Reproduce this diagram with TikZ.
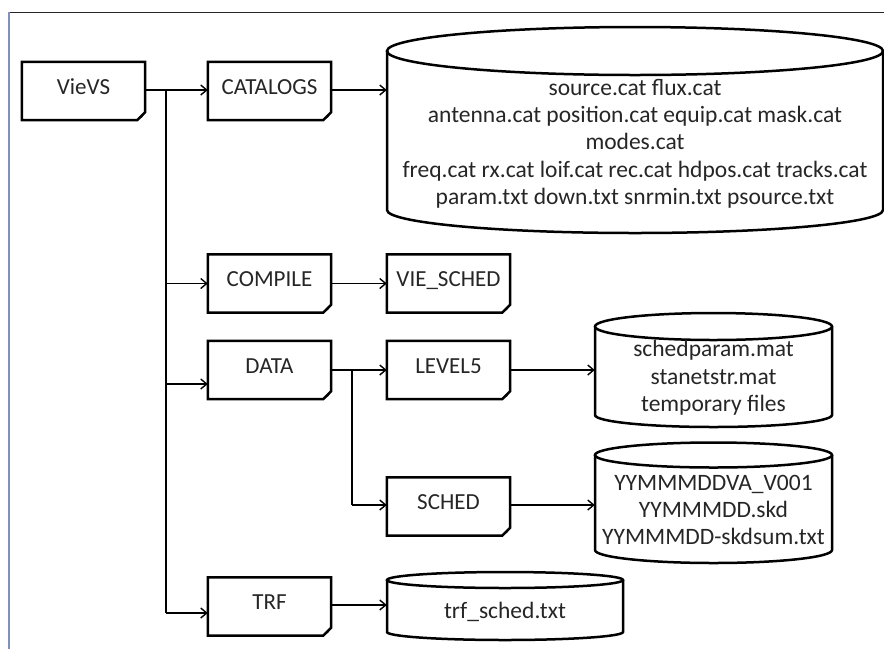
\documentclass[tikz,border=0pt]{standalone}
\usepackage{fontspec}
\setmainfont{Carlito}
\usetikzlibrary{calc,arrows.meta}
\definecolor{txt}{HTML}{262626}
\definecolor{frameblue}{HTML}{7F92BF}
\tikzset{
  boxnode/.style={minimum width=123pt, minimum height=58pt, inner sep=0pt,
    text height=15pt, text depth=8.5pt, font=\fontsize{23}{27}\selectfont, text=txt},
  boxline/.style={line width=2.5pt, line join=miter},
  cyltext/.style={inner sep=0pt, align=center, font=\fontsize{23.5}{27.3}\selectfont, text=txt},
  cylline/.style={line width=2.5pt},
  conn/.style={line width=1.4pt, -{Straight Barb[length=6pt,width=10pt,line width=1.4pt]}},
  plainline/.style={line width=1.4pt},
}
\newcommand\docbox[3]{%
  \node[boxnode] (#1) at (#2) {#3};
  \draw[boxline] (#1.north west) -- (#1.north east) -- ([yshift=8pt]#1.south east)
     -- ([xshift=-8pt]#1.south east) -- (#1.south west) -- cycle;
  \fill ([yshift=8pt]#1.south east) -- ([xshift=-8pt]#1.south east) -- ([xshift=-3pt,yshift=3pt]#1.south east) -- cycle;
}
% name, x0, x1, top-center y, bottom-center y, ry top, ry bottom, text center y, text
\newcommand\cyl[9]{%
  \draw[cylline] (#2,#4) -- (#2,#5) arc[start angle=180,end angle=0,x radius={(#3-#2)/2},y radius=#7] -- (#3,#4);
  \draw[cylline] ({(#2+#3)/2},#4) ellipse[x radius={(#3-#2)/2}, y radius=#6];
  \node[cyltext, minimum width={(#3-#2)*1pt}] (#1) at ({(#2+#3)/2},#8) {#9};
}
\begin{document}
\begin{tikzpicture}[x=1pt,y=-1pt]
\useasboundingbox (0,0) rectangle (884,649);
\fill[white] (0,0) rectangle (884,649);
% frame
\draw[line width=1pt, black!85] (9,12) -- (884,12);
\draw[line width=2pt, frameblue] (9,12) -- (9,649);

% boxes
\docbox{vievs}{83.5,91}{VieVS}
\docbox{catalogs}{269.5,91}{CATALOGS}
\docbox{compile}{269.5,283.5}{COMPILE}
\docbox{viesched}{448.5,283.5}{VIE\_SCHED}
\docbox{data}{269.5,370}{DATA}
\docbox{level5}{448.5,370}{LEVEL5}
\docbox{sched}{448.5,506.5}{SCHED}
\docbox{trf}{269.5,606.5}{TRF}

% cylinders
\cyl{catcyl}{387}{883}{51}{210}{24}{23}{143.5}{source.cat flux.cat\\antenna.cat position.cat equip.cat mask.cat\\modes.cat\\freq.cat rx.cat loif.cat rec.cat hdpos.cat tracks.cat\\param.txt down.txt snrmin.txt psource.txt}
\cyl{lvcyl}{595}{832}{326.5}{415}{13.5}{12}{378}{schedparam.mat\\stanetstr.mat\\temporary files}
\cyl{schcyl}{595}{832}{455}{550}{12.5}{13}{510}{YYMMMDDVA\_V001\\YYMMMDD.skd\\YYMMMDD-skdsum.txt}
\cyl{trfcyl}{387}{623}{580}{632}{8}{8}{612}{trf\_sched.txt}

% connectors
\coordinate (t0) at (166,90);
\coordinate (t1) at (166,613);
\coordinate (tc) at (166,283.5);
\coordinate (td) at (166,384);
\coordinate (b0) at (352,370);
\coordinate (b1) at (352,505);
\draw[conn] (vievs.east |- t0) -- (catalogs.west |- t0);
\draw[plainline] (t0) -- (t1);
\draw[conn] (tc) -- (compile.west);
\draw[conn] (td) -- (td -| data.west);
\draw[conn] (t1) -- (t1 -| trf.west);
\draw[conn] (catalogs.east |- t0) -- (t0 -| catcyl.west);
\draw[conn] (compile.east) -- (viesched.west);
\draw[conn] (data.east) -- (level5.west);
\draw[plainline] (b0) -- (b1);
\draw[conn] (b1) -- (b1 -| sched.west);
\draw[conn] (level5.east) -- (level5.east -| lvcyl.west);
\draw[conn] (sched.east |- b1) -- (b1 -| schcyl.west);
\coordinate (tr) at (331,605);
\draw[conn] (trf.east |- tr) -- (tr -| trfcyl.west);
\end{tikzpicture}
\end{document}
